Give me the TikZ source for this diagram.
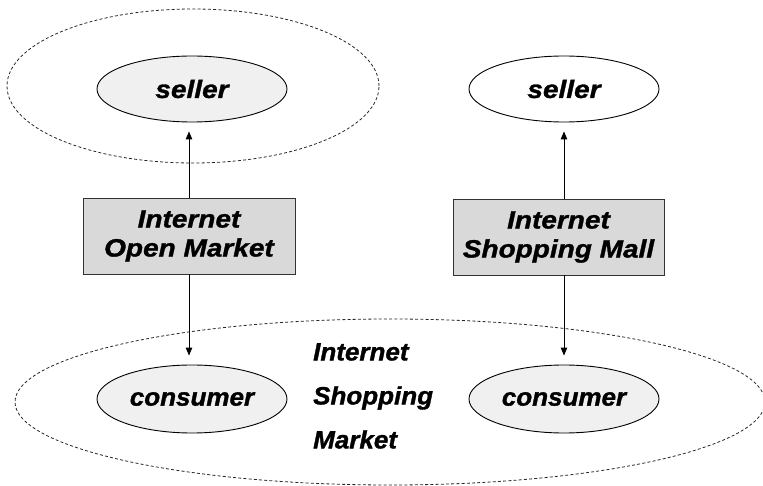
\documentclass[tikz,border=0pt]{standalone}
\usepackage{fontspec}
\setmainfont{Liberation Sans}
\newfontfamily\widefont[FakeStretch=1.12,FakeBold=1.3]{Liberation Sans}
\newfontfamily\midfont[FakeStretch=1.04,FakeBold=1.3]{Liberation Sans}
\usetikzlibrary{shapes.geometric,arrows.meta}
\definecolor{boxgray}{RGB}{217,217,217}
\definecolor{ellgray}{RGB}{240,240,240}
\tikzset{
  region/.style={ellipse, draw=black!85, dash pattern=on 3pt off 2.2pt, line width=0.8pt, inner sep=0pt},
  party/.style={ellipse, draw=black, line width=0.9pt, inner sep=0pt, minimum width=190pt, minimum height=66pt,
                font=\widefont\fontsize{25}{29}\selectfont\bfseries\itshape},
  market/.style={rectangle, draw=black!80, fill=boxgray, line width=0.9pt, inner sep=0pt, minimum height=76pt,
                 align=center, font=\widefont\fontsize{25}{29}\selectfont\bfseries\itshape},
  arr/.style={-{Triangle[length=8pt,width=6.5pt]}, line width=0.9pt, shorten >=9pt},
}
\begin{document}
\begin{tikzpicture}[x=1pt,y=-1pt]
\useasboundingbox (0,0) rectangle (763,486);
% surrounding regions
\node[region, minimum width=372pt, minimum height=154pt] (openreg) at (193,86) {};
\node[region, minimum width=750pt, minimum height=166pt] (shopreg) at (390,402) {};
% sellers
\node[party, fill=ellgray] (sellerL) at (192,89) {seller};
\node[party, fill=white] (sellerR) at (564,89) {seller};
% consumers
\node[party, fill=ellgray, minimum height=68pt, font=\midfont\fontsize{25}{29}\selectfont\bfseries\itshape] (consL) at (192,399) {consumer};
\node[party, fill=ellgray, minimum height=68pt, font=\midfont\fontsize{25}{29}\selectfont\bfseries\itshape] (consR) at (564,399) {consumer};
% market boxes
\node[market, minimum width=212pt] (openM) at (189,236) {Internet\\Open Market};
\node[market, minimum width=211pt] (mallM) at (558.5,237) {Internet\\Shopping Mall};
% label of the shopping market
\node[anchor=north west, inner sep=0pt, align=left, font=\midfont\fontsize{25}{44}\selectfont\bfseries\itshape] (shoplabel) at (313,343) {Internet\\Shopping\\Market};
% arrows
\draw[arr] (openM.north) -- (openM.north |- sellerL.south);
\draw[arr] (openM.south) -- (openM.south |- consL.north);
\draw[arr] (sellerR.south |- mallM.north) -- (sellerR.south);
\draw[arr] (consR.north |- mallM.south) -- (consR.north);
\end{tikzpicture}
\end{document}
